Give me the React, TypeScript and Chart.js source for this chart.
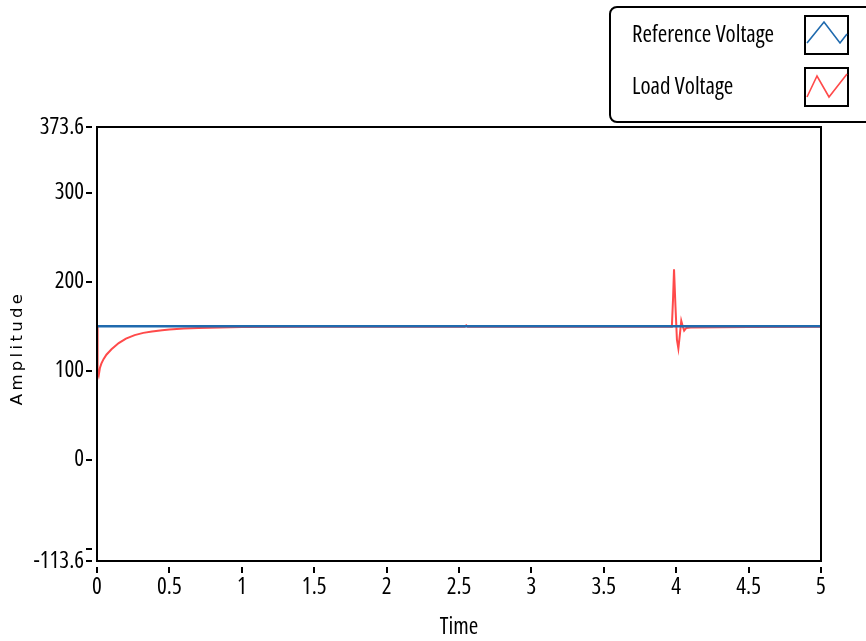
import React, { useEffect, useRef } from 'react';
import { Chart, registerables } from 'chart.js';

Chart.register(...registerables);

const refTime = [0, 5];
const refVoltage = [150, 150];

const loadTime = [
  0, 0.004, 0.012, 0.02, 0.03, 0.045, 0.065, 0.1, 0.15, 0.2, 0.26, 0.32, 0.38, 0.45,
  0.5, 0.6, 0.7, 0.85, 1.0, 1.5, 2.0, 2.54, 2.55, 2.56, 3.0, 3.5, 3.97, 3.978, 3.985,
  3.995, 4.005, 4.015, 4.025, 4.035, 4.045, 4.055, 4.07, 4.1, 4.5, 5.0,
];
const loadVoltage = [
  150, 100, 95, 103, 108, 113, 118, 124, 131, 136, 140, 142.5, 144, 145.5,
  146.2, 147.3, 148, 148.6, 149, 149.3, 149.4, 149.5, 151, 149.5, 149.5, 149.5, 149.5, 180, 214,
  172, 135, 125, 140, 156, 150, 145, 148, 148.5, 149, 149.3,
];

const yTickValues = [-113.6, -100, 0, 100, 200, 300, 373.6];
const yTickLabels = ['-113.6', '', '0', '100', '200', '300', '373.6'];
const xTickValues = [0, 0.5, 1, 1.5, 2, 2.5, 3, 3.5, 4, 4.5, 5];
const seriesNames = ['Reference Voltage', 'Load Voltage'];
const seriesColors = ['#1f6aae', '#ff4a4a'];
const xTitle = 'Time';
const yTitle = 'Amplitude';

const FAMILY = "'Open Sans'";
const SIZE = 23;

const decorPlugin = {
  id: 'decor',
  afterDraw(chart: any) {
    const ctx = chart.ctx;
    const { left, right, top, bottom } = chart.chartArea;
    const xs = chart.scales.x;
    const ys = chart.scales.y;
    ctx.save();
    ctx.strokeStyle = '#000';
    ctx.lineWidth = 2;
    ctx.strokeRect(left, top, right - left, bottom - top);
    yTickValues.forEach((v) => {
      const y = Math.round(ys.getPixelForValue(v));
      ctx.beginPath();
      ctx.moveTo(left - 11, y);
      ctx.lineTo(left - 5, y);
      ctx.stroke();
    });
    xTickValues.forEach((v) => {
      const x = Math.round(xs.getPixelForValue(v));
      ctx.beginPath();
      ctx.moveTo(x, bottom + 6);
      ctx.lineTo(x, bottom + 12);
      ctx.stroke();
    });
    // y axis title
    ctx.save();
    ctx.translate(18, 348);
    ctx.rotate(-Math.PI / 2);
    ctx.fillStyle = '#000';
    ctx.font = "16.5px 'DejaVu Sans', sans-serif";
    try { (ctx as any).letterSpacing = '3.3px'; } catch (e) {}
    ctx.textAlign = 'center';
    ctx.textBaseline = 'middle';
    ctx.fillText(yTitle, 0, 0);
    try { (ctx as any).letterSpacing = '0px'; } catch (e) {}
    ctx.restore();
    // legend
    const bx = 610, by = 7, bw = 270, bh = 115, r = 7;
    ctx.lineWidth = 2;
    ctx.strokeStyle = '#000';
    ctx.fillStyle = '#fff';
    ctx.beginPath();
    ctx.moveTo(bx + r, by);
    ctx.lineTo(bx + bw - r, by);
    ctx.arcTo(bx + bw, by, bx + bw, by + r, r);
    ctx.lineTo(bx + bw, by + bh - r);
    ctx.arcTo(bx + bw, by + bh, bx + bw - r, by + bh, r);
    ctx.lineTo(bx + r, by + bh);
    ctx.arcTo(bx, by + bh, bx, by + bh - r, r);
    ctx.lineTo(bx, by + r);
    ctx.arcTo(bx, by, bx + r, by, r);
    ctx.closePath();
    ctx.fill();
    ctx.stroke();
    ctx.textAlign = 'left';
    ctx.textBaseline = 'alphabetic';
    ctx.font = `condensed ${SIZE}px ${FAMILY}`;
    const rows = [35, 87];
    seriesNames.forEach((name, i) => {
      const cy = rows[i];
      ctx.fillStyle = '#000';
      ctx.fillText(name, 632, cy + 7);
      ctx.strokeStyle = '#000';
      ctx.lineWidth = 2;
      ctx.strokeRect(805, cy - 19, 43, 38);
      ctx.strokeStyle = seriesColors[i];
      ctx.lineWidth = 1.6;
      ctx.beginPath();
      if (i === 0) {
        ctx.moveTo(807, cy + 8);
        ctx.lineTo(824, cy - 13);
        ctx.lineTo(840, cy + 8);
        ctx.lineTo(847, cy - 1);
      } else {
        ctx.moveTo(807, cy + 10);
        ctx.lineTo(817, cy - 11);
        ctx.lineTo(829, cy + 10);
        ctx.lineTo(847, cy - 13);
      }
      ctx.stroke();
    });
    ctx.restore();
  },
};

export default function App() {
  const ref = useRef<HTMLCanvasElement | null>(null);
  useEffect(() => {
    const canvas = ref.current;
    if (!canvas) return;
    const tickFont = { family: FAMILY, weight: 'condensed', size: SIZE };
    const chart = new Chart(canvas, {
      type: 'line',
      data: {
        datasets: [
          {
            label: seriesNames[0],
            data: refTime.map((t, i) => ({ x: t, y: refVoltage[i] })),
            borderColor: seriesColors[0],
            borderWidth: 2.5,
            pointRadius: 0,
            tension: 0,
          },
          {
            label: seriesNames[1],
            data: loadTime.map((t, i) => ({ x: t, y: loadVoltage[i] })),
            borderColor: seriesColors[1],
            borderWidth: 2,
            pointRadius: 0,
            tension: 0,
          },
        ],
      },
      options: {
        responsive: false,
        animation: false,
        devicePixelRatio: 1,
        layout: { padding: { top: 127, right: 45, left: 0, bottom: 0 } },
        plugins: { legend: { display: false }, tooltip: { enabled: false } },
        scales: {
          x: {
            type: 'linear',
            min: 0,
            max: 5,
            grid: { display: false },
            border: { display: false },
            afterBuildTicks: (s: any) => {
              s.ticks = xTickValues.map((v) => ({ value: v }));
            },
            afterFit: (s: any) => {
              s.height = 80;
            },
            ticks: {
              color: '#000',
              padding: 5,
              maxRotation: 0,
              autoSkip: false,
              font: tickFont,
              callback: (v: any) => String(v),
            },
            title: {
              display: true,
              text: xTitle,
              color: '#000',
              font: tickFont,
              padding: { top: 0, bottom: 0 },
            },
          },
          y: {
            type: 'linear',
            min: -113.6,
            max: 373.6,
            grid: { display: false },
            border: { display: false },
            afterBuildTicks: (s: any) => {
              s.ticks = yTickValues.map((v) => ({ value: v }));
            },
            afterFit: (s: any) => {
              s.width = 97;
            },
            ticks: {
              color: '#000',
              padding: 5,
              autoSkip: false,
              font: tickFont,
              callback: (v: any) => {
                const i = yTickValues.indexOf(Number(v));
                return i >= 0 ? yTickLabels[i] : '';
              },
            },
          },
        },
      },
      plugins: [decorPlugin],
    } as any);
    return () => chart.destroy();
  }, []);
  return (
    <div style={{ position: 'fixed', left: 0, top: 0, width: 866, height: 641, background: '#fff' }}>
      <canvas ref={ref} width={866} height={641} />
    </div>
  );
}
